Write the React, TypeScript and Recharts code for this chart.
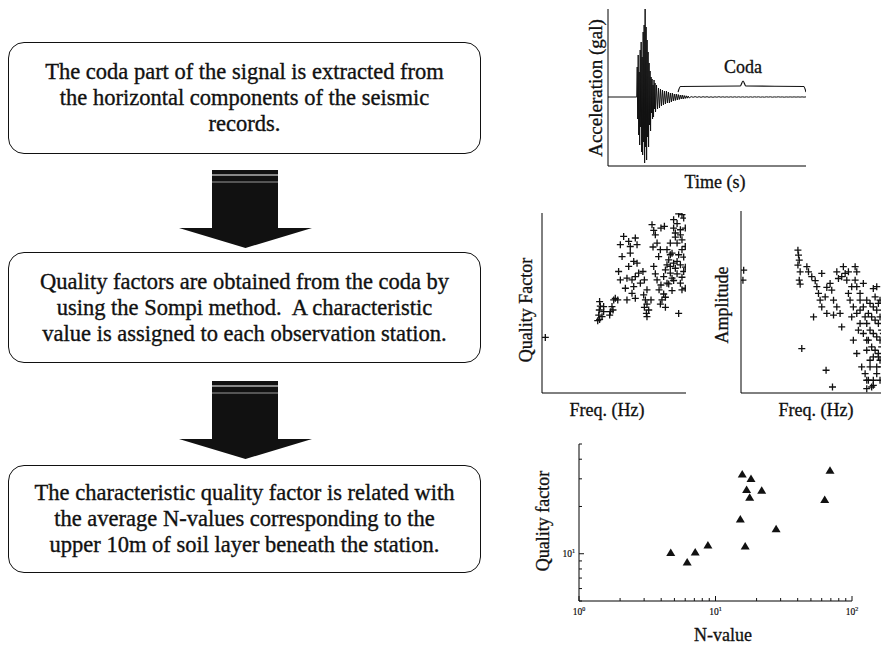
import React from 'react';
import { LineChart, Line, ScatterChart, Scatter, XAxis, YAxis } from 'recharts';

const serif = '"Liberation Serif", "Times New Roman", serif';
const ink = '#111';

// flow chart, one entry per printed line
const step1Lines = [
  'The coda part of the signal is extracted from',
  'the horizontal components of the seismic',
  'records.',
];
const step2Lines = [
  'Quality factors are obtained from the coda by',
  'using the Sompi method.  A characteristic',
  'value is assigned to each observation station.',
];
const step3Lines = [
  'The characteristic quality factor is related with',
  'the average N-values corresponding to the',
  'upper 10m of soil layer beneath the station.',
];

// acceleration record
const quietT = [0, 14.5];
const quietAcc = [0, 0];
const strongStart = 14.75;
const strongStep = 0.25;
const strongAcc = [
  30, -22, 42, -38, 25, -48, 47, -30, 55, -55, 40, -58, 65, -45, 72, -66, 88, -50, 70, -63, 57,
  -40, 45, -50, 34, -28, 26, -34, 20, -16, 18, -22, 12, -20, 17, -12, 14, -15,
];
const decayStart = 24.5;
const decayStep = 0.5;
const decayAcc = [
  12, -12, 9, -11, 8, -9, 7, -8, 6, -7, 6, -6, 5, -6, 4, -5, 4, -4, 3, -3.5, 3, -3, 2.5, -2.5,
  2, -2, 2, -2, 1.5, -1.5, 1.2, -1.2, 1, -1,
];
const codaStart = 42;
const codaStep = 1;
const codaAcc = [
  0.4, -0.3, 0.4, -0.3, 0.3, -0.3, 0.3, -0.2, 0.3, -0.3, 0.2, -0.3, 0.2, -0.2, 0.3, -0.2, 0.2,
  -0.2, 0.2, -0.2, 0.2, -0.2, 0.2, -0.2, 0.2, -0.2, 0.2, -0.2, 0.2, -0.2, 0.2, -0.2, 0.2, -0.1,
  0.2, -0.2, 0.1, -0.2, 0.2, -0.1, 0.2, -0.2, 0.1, -0.1, 0.2, -0.1, 0.1, -0.2, 0.1, -0.1, 0.1,
  -0.1, 0.1, -0.1, 0.1, -0.1, 0.1, -0.1, 0.1,
];
const timeTicks = [10, 20, 30, 40, 50, 60, 70, 80, 90];
const accTicks = [-52.5, -35, -17.5, 0, 17.5, 35, 52.5, 70];

// coda brace
const braceT = [35.4, 36.6, 66.8, 68.2, 69.6, 98.8, 100];
const braceAcc = [5, 10.5, 11, 16, 11, 10.5, 5];

// quality factor vs frequency (relative units)
const qualityPoints: [number, number][] = [
  [2.3, 30.9], [40.0, 50.8], [40.5, 48.3], [39.8, 46.1], [39.4, 43.3], [40.0, 40.9], [42.8, 48.0],
  [42.8, 45.2], [41.7, 42.4], [38.7, 40.2], [47.5, 45.2], [48.6, 48.0], [49.8, 51.7], [50.9, 52.6],
  [47.0, 43.3], [49.3, 46.1], [56.7, 87.0], [54.4, 82.4], [60.2, 84.2], [64.8, 86.1], [66.0, 82.4],
  [61.3, 81.4], [61.3, 77.7], [55.6, 75.8], [63.7, 73.1], [66.0, 72.1], [60.2, 70.3], [53.2, 67.5],
  [54.4, 62.8], [59.0, 63.8], [62.5, 62.8], [64.8, 64.7], [67.1, 66.6], [70.1, 67.5], [57.9, 58.2],
  [63.7, 59.1], [62.5, 55.4], [64.8, 52.6], [59.0, 51.7], [52.6, 51.7], [68.3, 61.0], [71.1, 62.8],
  [72.9, 57.3], [70.6, 54.5], [71.8, 51.7], [72.9, 49.4], [71.1, 47.6], [74.1, 46.1], [72.5, 44.2],
  [72.9, 42.4], [75.7, 51.7], [76.4, 93.5], [77.6, 90.3], [78.7, 87.9], [82.6, 91.6], [85.0, 92.6],
  [79.9, 83.3], [77.1, 81.1], [82.2, 79.6], [81.0, 75.8], [77.6, 70.3], [78.7, 66.2], [79.9, 62.8],
  [82.6, 60.0], [81.3, 57.3], [84.5, 55.0], [83.3, 51.7], [85.7, 47.6], [82.2, 49.4], [86.8, 61.0],
  [84.5, 64.7], [85.7, 53.2], [91.4, 96.3], [93.8, 94.1], [97.2, 99.1], [98.4, 97.2], [96.1, 90.7],
  [92.6, 88.9], [89.1, 83.3], [93.8, 83.3], [97.2, 85.1], [99.5, 81.4], [86.8, 79.6], [90.3, 77.7],
  [94.9, 76.8], [98.4, 75.5], [88.0, 74.0], [91.4, 72.1], [96.1, 71.2], [99.5, 69.9], [85.7, 68.4],
  [89.1, 66.6], [93.8, 66.2], [97.2, 64.3], [91.4, 62.5], [88.0, 60.6], [96.1, 61.0], [99.5, 58.2],
  [90.3, 56.9], [94.9, 44.2], [92.6, 86.6], [97.2, 79.6], [86.8, 71.2], [98.4, 67.5], [92.6, 69.3],
  [89.1, 76.8], [96.1, 87.9], [99.5, 91.6], [91.4, 91.6], [94.9, 99.5], [89.1, 70.3], [93.8, 73.1],
  [90.3, 63.8], [97.2, 57.3],
];

// amplitude vs frequency (relative units)
const amplitudePoints: [number, number][] = [
  [1.8, 67.5], [1.3, 62.0], [38.2, 78.5], [38.6, 75.8], [39.1, 73.0], [38.2, 70.3], [39.7, 66.6],
  [39.1, 62.0], [39.7, 59.8], [40.8, 24.4], [57.1, 12.5], [61.4, 3.3], [84.4, 2.4], [44.2, 69.4],
  [45.3, 66.6], [47.5, 63.9], [49.8, 61.7], [50.9, 58.4], [52.0, 54.7], [53.1, 51.0], [54.2, 47.3],
  [48.7, 41.8], [56.5, 52.8], [57.6, 58.0], [59.8, 60.2], [60.9, 56.5], [62.1, 51.0], [64.3, 47.3],
  [66.5, 43.7], [67.6, 36.3], [57.6, 43.7], [62.1, 42.8], [68.7, 69.4], [69.9, 65.7], [71.0, 62.0],
  [67.6, 63.9], [76.6, 69.4], [77.7, 66.6], [76.6, 62.0], [77.7, 58.4], [79.9, 54.7], [82.1, 60.2],
  [74.3, 58.4], [72.1, 54.7], [73.2, 51.0], [75.4, 47.3], [77.7, 43.7], [79.9, 38.2], [82.1, 32.7],
  [84.4, 29.0], [78.8, 34.5], [75.4, 29.0], [77.7, 21.7], [81.0, 14.3], [83.3, 10.6], [85.5, 7.0],
  [88.8, 4.2], [91.1, 14.3], [92.2, 19.8], [86.6, 18.0], [84.4, 51.0], [86.6, 49.2], [88.8, 47.3],
  [91.1, 45.5], [93.3, 51.0], [85.5, 43.7], [87.7, 41.8], [90.0, 40.0], [92.2, 38.2], [84.4, 38.2],
  [86.6, 34.5], [88.8, 32.7], [91.1, 30.8], [93.3, 29.0], [85.5, 29.0], [87.7, 25.3], [90.0, 23.5],
  [92.2, 21.7], [84.4, 23.5], [88.8, 19.8], [93.3, 18.0], [86.6, 14.3], [91.1, 10.6], [88.8, 7.0],
  [93.3, 7.0], [90.0, 52.8], [92.2, 49.2], [93.3, 41.8], [94.4, 34.5], [94.4, 25.3], [94.4, 14.3],
  [91.1, 58.4], [88.8, 57.4], [54.2, 65.7], [64.3, 66.6], [65.4, 62.9], [72.1, 66.6], [79.9, 51.0],
  [82.1, 47.3], [83.3, 41.8], [79.9, 45.5], [74.3, 41.8], [95.5, 45.5], [95.5, 32.7], [96.7, 21.7],
  [96.7, 8.8], [87.7, 3.3], [84.4, 7.0],
];

// characteristic quality factor per station
const nValues = [4.7, 6.2, 7.1, 8.8, 15.7, 18.2, 16.9, 17.8, 21.8, 15.2, 16.5, 27.8, 63.1, 69.0];
const qFactors = [10.1, 8.8, 10.2, 11.3, 32.0, 29.9, 25.5, 22.7, 25.2, 16.5, 11.1, 14.3, 22.0, 33.8];
const nTicks = [1, 2, 3, 4, 5, 6, 7, 8, 9, 10, 20, 30, 40, 50, 60, 70, 80, 90, 100];
const qTicks = [5, 6, 7, 8, 9, 10, 20, 30, 40, 50];

const signalData = [
  ...quietT.map((t, i) => ({ t, a: quietAcc[i] })),
  ...strongAcc.map((a, i) => ({ t: strongStart + i * strongStep, a })),
  ...decayAcc.map((a, i) => ({ t: decayStart + i * decayStep, a })),
  ...codaAcc.map((a, i) => ({ t: codaStart + i * codaStep, a })),
];
const braceData = braceT.map((t, i) => ({ t, a: braceAcc[i] }));
const qualityData = qualityPoints.map(([x, y]) => ({ x, y }));
const amplitudeData = amplitudePoints.map(([x, y]) => ({ x, y }));
const stationData = nValues.map((n, i) => ({ n, q: qFactors[i] }));

function PlusMark(props: any) {
  const { cx, cy } = props;
  return (
    <path
      d={`M${cx - 3.5},${cy}H${cx + 3.5}M${cx},${cy - 3.5}V${cy + 3.5}`}
      stroke={ink}
      strokeWidth={1.3}
      fill="none"
    />
  );
}

function TriangleMark(props: any) {
  const { cx, cy } = props;
  return <path d={`M${cx},${cy - 4.5}L${cx + 4.5},${cy + 3}L${cx - 4.5},${cy + 3}Z`} fill={ink} />;
}

function LogTick(props: any) {
  const { x, y, payload, side, labels } = props;
  const v = payload.value;
  const exp = Math.round(Math.log10(v));
  const major = Math.abs(Math.log10(v) - exp) < 1e-6;
  const len = major ? 5 : 3;
  let line = null;
  if (side === 'bottom') line = <line x1={x} y1={y} x2={x} y2={y - len} stroke={ink} />;
  if (side === 'top') line = <line x1={x} y1={y} x2={x} y2={y + len} stroke={ink} />;
  if (side === 'left') line = <line x1={x} y1={y} x2={x + len} y2={y} stroke={ink} />;
  if (side === 'right') line = <line x1={x} y1={y} x2={x - len} y2={y} stroke={ink} />;
  let label = null;
  if (labels && major) {
    const tx = side === 'left' ? x - 4 : x;
    const ty = side === 'left' ? y + 3 : y + 14;
    label = (
      <text x={tx} y={ty} fontSize={9.5} fill={ink} stroke={ink} strokeWidth={0.2} textAnchor={side === 'left' ? 'end' : 'middle'}>
        10
        <tspan fontSize={6} dy={-4}>
          {exp}
        </tspan>
      </text>
    );
  }
  return (
    <g>
      {line}
      {label}
    </g>
  );
}

function Txt({ x, y, size = 18, vertical = false, children }: any) {
  return (
    <div
      style={{
        position: 'absolute',
        left: x,
        top: y,
        fontSize: size,
        lineHeight: 1,
        whiteSpace: 'nowrap',
        WebkitTextStroke: '0.3px #111',
        transform: `translate(-50%, -50%)${vertical ? ' rotate(-90deg)' : ''}`,
      }}
    >
      {children}
    </div>
  );
}

function StepBox({ top, height, lines }: { top: number; height: number; lines: string[] }) {
  return (
    <div
      style={{
        position: 'absolute',
        left: 8,
        top,
        width: 473,
        height,
        boxSizing: 'border-box',
        border: `1.6px solid ${ink}`,
        borderRadius: 16,
        display: 'flex',
        flexDirection: 'column',
        alignItems: 'center',
        justifyContent: 'center',
        fontSize: 22.5,
        lineHeight: '26px',
        WebkitTextStroke: '0.35px #111',
      }}
    >
      {lines.map((l) => (
        <div key={l} style={{ whiteSpace: 'pre' }}>
          {l}
        </div>
      ))}
    </div>
  );
}

function DownArrow({ top }: { top: number }) {
  return (
    <svg style={{ position: 'absolute', left: 179, top }} width={134} height={79}>
      <polygon points="33,0 99,0 99,58 133,58 66.5,78 0,58 33,58" fill={ink} />
      <line x1={33} x2={99} y1={5} y2={5} stroke="#fff" strokeWidth={1} />
      <line x1={33} x2={99} y1={12} y2={12} stroke="#bbb" strokeWidth={0.8} />
    </svg>
  );
}

const frameAxis = { stroke: '#000', tick: false, tickSize: -4, allowDataOverflow: true } as const;

export default function App() {
  return (
    <div
      style={{
        position: 'absolute',
        left: 0,
        top: 0,
        width: 881,
        height: 646,
        overflow: 'hidden',
        background: '#fff',
        color: ink,
        fontFamily: serif,
      }}
    >
      <StepBox top={42} height={112} lines={step1Lines} />
      <DownArrow top={170} />
      <StepBox top={252} height={111} lines={step2Lines} />
      <DownArrow top={381} />
      <StepBox top={465} height={108} lines={step3Lines} />

      {/* acceleration record */}
      <div style={{ position: 'absolute', left: 548, top: 0 }}>
        <LineChart width={270} height={200} margin={{ top: 9, right: 12, left: 0, bottom: 0 }}>
          <XAxis xAxisId="b" type="number" dataKey="t" domain={[0, 100]} ticks={timeTicks} height={34} {...frameAxis} />
          <XAxis xAxisId="t" orientation="top" type="number" domain={[0, 100]} ticks={timeTicks} height={0} {...frameAxis} />
          <YAxis yAxisId="l" type="number" domain={[-69, 88]} ticks={accTicks} width={60} {...frameAxis} />
          <YAxis yAxisId="r" orientation="right" type="number" domain={[-69, 88]} ticks={accTicks} width={0} {...frameAxis} />
          <Line
            xAxisId="b"
            yAxisId="l"
            data={signalData}
            dataKey="a"
            type="linear"
            stroke={ink}
            strokeWidth={1}
            dot={false}
            isAnimationActive={false}
          />
          <Line
            xAxisId="b"
            yAxisId="l"
            data={braceData}
            dataKey="a"
            type="monotone"
            stroke={ink}
            strokeWidth={1.2}
            dot={false}
            isAnimationActive={false}
          />
        </LineChart>
      </div>
      <Txt x={595} y={88} size={19} vertical>
        Acceleration (gal)
      </Txt>
      <Txt x={715} y={182}>Time (s)</Txt>
      <Txt x={743} y={67}>Coda</Txt>

      {/* quality factor vs frequency */}
      <div style={{ position: 'absolute', left: 500, top: 200 }}>
        <ScatterChart width={200} height={220} margin={{ top: 13, right: 14, left: 0, bottom: 0 }}>
          <XAxis xAxisId="b" type="number" dataKey="x" domain={[0, 100]} ticks={[37.5]} height={27} {...frameAxis} />
          <XAxis xAxisId="t" orientation="top" type="number" domain={[0, 100]} ticks={[37.5]} height={0} {...frameAxis} />
          <YAxis yAxisId="l" type="number" dataKey="y" domain={[0, 100]} ticks={[25, 50, 75]} width={42} {...frameAxis} />
          <YAxis yAxisId="r" orientation="right" type="number" domain={[0, 100]} ticks={[25, 50, 75]} width={0} {...frameAxis} />
          <Scatter xAxisId="b" yAxisId="l" data={qualityData} shape={(p: any) => <PlusMark {...p} />} isAnimationActive={false} />
        </ScatterChart>
      </div>
      <Txt x={526} y={310} vertical>
        Quality Factor
      </Txt>
      <Txt x={607} y={410}>Freq. (Hz)</Txt>

      {/* amplitude vs frequency */}
      <div style={{ position: 'absolute', left: 700, top: 200 }}>
        <ScatterChart width={200} height={220} margin={{ top: 11, right: 10, left: 0, bottom: 0 }}>
          <XAxis xAxisId="b" type="number" dataKey="x" domain={[0, 100]} ticks={[35, 70]} height={27} {...frameAxis} />
          <XAxis xAxisId="t" orientation="top" type="number" domain={[0, 100]} ticks={[35, 70]} height={0} {...frameAxis} />
          <YAxis yAxisId="l" type="number" dataKey="y" domain={[0, 100]} ticks={[17, 33.5, 50, 66.5, 83]} width={41} {...frameAxis} />
          <YAxis yAxisId="r" orientation="right" type="number" domain={[0, 100]} ticks={[17, 33.5, 50, 66.5, 83]} width={0} {...frameAxis} />
          <Scatter xAxisId="b" yAxisId="l" data={amplitudeData} shape={(p: any) => <PlusMark {...p} />} isAnimationActive={false} />
        </ScatterChart>
      </div>
      <Txt x={722} y={305} vertical>
        Amplitude
      </Txt>
      <Txt x={816} y={410}>Freq. (Hz)</Txt>

      {/* quality factor vs N-value */}
      <div style={{ position: 'absolute', left: 520, top: 430 }}>
        <ScatterChart width={350} height={216} margin={{ top: 14, right: 18, left: 0, bottom: 0 }}>
          <XAxis
            xAxisId="b"
            type="number"
            dataKey="n"
            scale="log"
            domain={[1, 100]}
            allowDataOverflow
            ticks={nTicks}
            interval={0}
            height={45}
            stroke="#000"
            tickLine={false}
            tickSize={0}
            tickMargin={0}
            tick={(p: any) => <LogTick {...p} side="bottom" labels />}
          />
          <XAxis
            xAxisId="t"
            orientation="top"
            type="number"
            scale="log"
            domain={[1, 100]}
            allowDataOverflow
            ticks={nTicks}
            interval={0}
            height={0}
            stroke="#000"
            tickLine={false}
            tickSize={0}
            tickMargin={0}
            tick={(p: any) => <LogTick {...p} side="top" />}
          />
          <YAxis
            yAxisId="l"
            type="number"
            dataKey="q"
            scale="log"
            domain={[5, 50]}
            allowDataOverflow
            ticks={qTicks}
            interval={0}
            width={59}
            stroke="#000"
            tickLine={false}
            tickSize={0}
            tickMargin={0}
            tick={(p: any) => <LogTick {...p} side="left" labels />}
          />
          <YAxis
            yAxisId="r"
            orientation="right"
            type="number"
            scale="log"
            domain={[5, 50]}
            allowDataOverflow
            ticks={qTicks}
            interval={0}
            width={0}
            stroke="#000"
            tickLine={false}
            tickSize={0}
            tickMargin={0}
            tick={(p: any) => <LogTick {...p} side="right" />}
          />
          <Scatter xAxisId="b" yAxisId="l" data={stationData} shape={(p: any) => <TriangleMark {...p} />} isAnimationActive={false} />
        </ScatterChart>
      </div>
      <Txt x={543} y={521} vertical>
        Quality factor
      </Txt>
      <Txt x={723} y={635}>N-value</Txt>
    </div>
  );
}
